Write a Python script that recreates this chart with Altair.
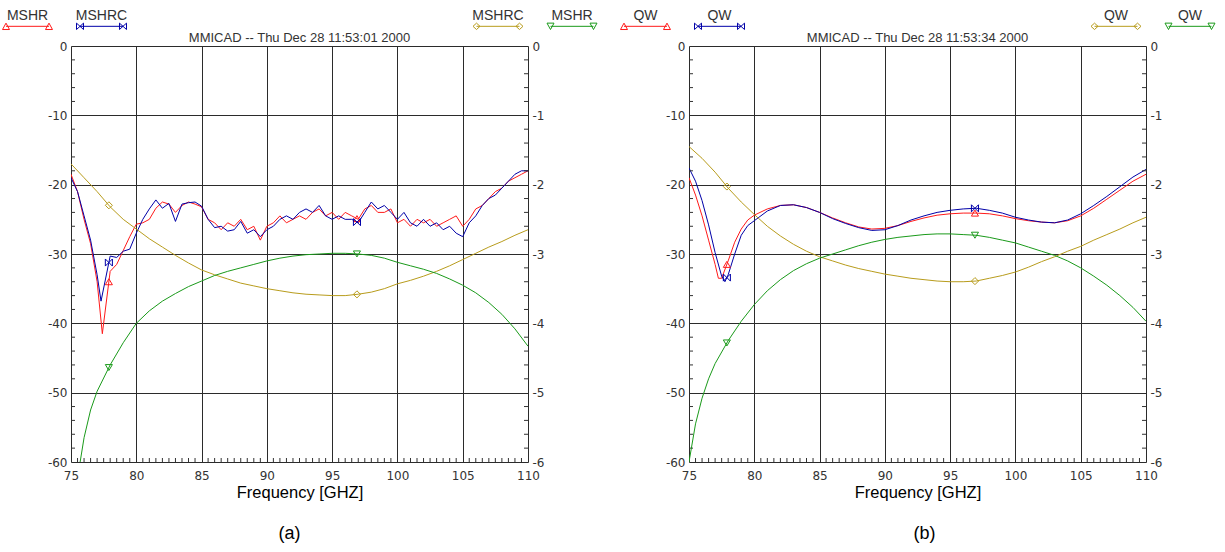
import altair as alt
import numpy as np
import pandas as pd

# ------------------------------------------------------------------ data
FREQ_GRID_A = [round(75.0 + 0.5 * i, 1) for i in range(71)]
FREQ_A_RED = [77.4 if f == 77.5 else f for f in FREQ_GRID_A]
FREQ_A_BLUE = [77.3 if f == 77.5 else f for f in FREQ_GRID_A]

MSHR_A = [
    -18.5, -21.0, -25.0, -28.5, -34.0, -41.5, -32.5, -31.5, -29.5, -27.5,
    -25.7, -25.5, -25.0, -23.4, -22.5, -22.8, -24.0, -23.0, -22.5, -22.8,
    -23.2, -25.0, -25.5, -26.5, -25.5, -26.0, -25.0, -26.5, -26.0, -28.0,
    -26.0, -25.5, -24.5, -25.5, -25.0, -24.5, -25.0, -24.0, -23.5, -24.5,
    -24.0, -25.0, -24.0, -24.5, -25.0, -23.5, -23.0, -24.0, -24.0, -23.5,
    -25.5, -25.0, -26.0, -25.0, -25.5, -25.0, -26.0, -25.5, -25.0, -24.5,
    -26.0, -25.0, -23.5, -23.0, -22.0, -21.0, -20.5, -19.5, -19.0, -18.5,
    -18.0,
]
MSHRC_A = [
    -19.0, -21.0, -24.5, -28.0, -33.0, -36.8, -30.3, -30.5, -29.6, -29.3,
    -27.0, -25.0, -23.5, -22.2, -23.4, -22.7, -25.3, -22.8, -22.6, -22.5,
    -23.1, -25.0, -26.2, -26.0, -26.7, -26.5, -25.3, -27.0, -26.5, -27.5,
    -26.5, -26.0, -25.0, -24.5, -25.0, -24.0, -23.5, -24.0, -23.0, -24.5,
    -25.0, -24.5, -25.0, -25.0, -25.5, -24.0, -22.5, -23.5, -23.0, -24.0,
    -25.0, -24.0, -25.5, -26.0, -25.0, -26.0, -25.5, -26.5, -26.0, -27.0,
    -27.5, -25.5, -24.5, -23.0, -22.0, -21.5, -20.5, -19.5, -18.5, -18.0,
    -18.0,
]

FREQ_1GHZ = list(range(75, 111))
MSHRC_A_RIGHT = [
    -1.70, -1.90, -2.10, -2.32, -2.50, -2.64, -2.78, -2.90, -3.02, -3.13,
    -3.23, -3.30, -3.36, -3.42, -3.46, -3.50, -3.53, -3.56, -3.58, -3.59,
    -3.60, -3.60, -3.58, -3.55, -3.50, -3.43, -3.38, -3.32, -3.25, -3.17,
    -3.08, -2.99, -2.90, -2.82, -2.73, -2.65,
]
FREQ_A_GREEN = [75.7, 76, 76.5, 77] + list(range(78, 111))
MSHR_A_RIGHT = [
    -6.00, -5.65, -5.25, -4.98, -4.60, -4.28, -4.00, -3.82, -3.68, -3.57,
    -3.47, -3.39, -3.31, -3.25, -3.20, -3.15, -3.10, -3.06, -3.03, -3.01,
    -3.00, -2.99, -2.99, -3.00, -3.02, -3.06, -3.12, -3.17, -3.22, -3.28,
    -3.36, -3.45, -3.56, -3.70, -3.87, -4.08, -4.33,
]

FREQ_B_RED = [75, 75.5, 76, 76.5, 77, 77.25, 77.5, 78, 78.5, 79, 79.5] + list(range(80, 111))
QW_B_RED = [
    -19.0, -21.5, -24.5, -28.0, -31.5, -33.5, -33.5, -31.0, -28.3, -26.4, -25.1,
    -24.4, -23.5, -23.0, -22.9, -23.3, -24.0, -24.8, -25.5, -26.1, -26.4,
    -26.3, -25.9, -25.3, -24.8, -24.4, -24.2, -24.1, -24.1, -24.2, -24.5,
    -24.9, -25.2, -25.4, -25.5, -25.2, -24.5, -23.4, -22.1, -20.8, -19.5,
    -18.5,
]
FREQ_B_BLUE = [75, 75.5, 76, 76.5, 77, 77.5, 77.75, 78, 78.5, 79, 79.5] + list(range(80, 111))
QW_B_BLUE = [
    -17.6, -19.5, -22.3, -25.8, -29.8, -33.2, -34.0, -33.0, -30.0, -27.3, -25.9,
    -25.2, -23.8, -23.0, -22.9, -23.3, -24.0, -24.9, -25.6, -26.2, -26.6,
    -26.5, -25.9, -25.1, -24.5, -24.0, -23.7, -23.5, -23.4, -23.7, -24.1,
    -24.7, -25.1, -25.4, -25.5, -25.1, -24.2, -23.0, -21.7, -20.3, -18.9,
    -17.8,
]
QW_B_GOLD = [
    -1.45, -1.62, -1.82, -2.05, -2.25, -2.43, -2.60, -2.74, -2.86, -2.96,
    -3.04, -3.10, -3.16, -3.21, -3.25, -3.29, -3.32, -3.35, -3.37, -3.39,
    -3.40, -3.40, -3.39, -3.35, -3.31, -3.26, -3.19, -3.11, -3.04, -2.96,
    -2.89, -2.80, -2.72, -2.64, -2.55, -2.47,
]
FREQ_B_GREEN = [75, 75.5, 76, 76.5, 77] + list(range(78, 111))
QW_B_GREEN = [
    -6.00, -5.45, -5.08, -4.80, -4.58, -4.25, -3.97, -3.73, -3.53, -3.37,
    -3.24, -3.14, -3.06, -3.00, -2.94, -2.88, -2.83, -2.79, -2.76, -2.74,
    -2.72, -2.71, -2.71, -2.72, -2.73, -2.76, -2.80, -2.84, -2.90, -2.96,
    -3.02, -3.10, -3.20, -3.32, -3.45, -3.60, -3.77, -3.97,
]

MARKER_FREQS = [77.9, 96.9]
X_TICKS = list(range(75, 111, 5))
LEFT_TICKS = list(range(-60, 1, 10))
RIGHT_TICKS = list(range(-6, 1))

TITLE_A = "MMICAD -- Thu Dec 28 11:53:01 2000"
TITLE_B = "MMICAD -- Thu Dec 28 11:53:34 2000"

# ------------------------------------------------------------------ style
W, H = 457, 416
FONT_NUM = "DejaVu Sans"
FONT_TXT = "Liberation Sans"
GRID_COLOR = "#2b2b2b"
TICK_COLOR = "#333333"
RED, BLUE, GOLD, GREEN = "#ff1a1a", "#0000a8", "#b89c1c", "#1a9a1a"

# legend glyph geometry (unit = 7 px, symbol size 196)
SYM_SIZE = 196
UNIT = 7.0
HALF_LEN = 21.5 / UNIT
LINE_DY = 10.75 / UNIT
HX, HY = 3.5 / UNIT, 3.2 / UNIT


def end_marker(kind, cx):
    y0, y1, ym = LINE_DY - HY, LINE_DY + HY, LINE_DY
    if kind == "up":
        return f"M{cx:.3f},{y0:.3f}L{cx + HX:.3f},{y1:.3f}L{cx - HX:.3f},{y1:.3f}Z"
    if kind == "down":
        return f"M{cx - HX:.3f},{y0:.3f}L{cx + HX:.3f},{y0:.3f}L{cx:.3f},{y1:.3f}Z"
    if kind == "diamond":
        return (f"M{cx:.3f},{y0:.3f}L{cx + HX:.3f},{ym:.3f}L{cx:.3f},{y1:.3f}"
                f"L{cx - HX:.3f},{ym:.3f}Z")
    return (f"M{cx - HX:.3f},{y0:.3f}L{cx - HX:.3f},{y1:.3f}L{cx + HX:.3f},{y0:.3f}"
            f"L{cx + HX:.3f},{y1:.3f}Z")


def legend_path(kind):
    return (f"M{-HALF_LEN:.3f},{LINE_DY:.3f}L{HALF_LEN:.3f},{LINE_DY:.3f}"
            + end_marker(kind, -HALF_LEN) + end_marker(kind, HALF_LEN))


POINT_PATH = {
    "up": "M0,-0.85L1,0.85L-1,0.85Z",
    "down": "M-1,-0.85L1,-0.85L0,0.85Z",
    "diamond": "M0,-1L1,0L0,1L-1,0Z",
    "bowtie": "M-1,-1L-1,1L1,-1L1,1Z",
}


def frame(series):
    rows = []
    for name, _c, _k, freqs, vals in series:
        for f, v in zip(freqs, vals):
            rows.append({"f": float(f), "v": float(v), "s": name})
    return pd.DataFrame(rows)


def make_legend(x):
    return alt.Legend(
        orient="none", legendX=x, legendY=-38.2, direction="horizontal", title=None,
        labelExpr="split(datum.label, '|')[0]", labelAlign="center",
        labelOffset={"expr": "-7.5"},
        labelBaseline="middle", labelFont=FONT_TXT, labelFontSize=14, labelColor="#333333",
        symbolSize=SYM_SIZE, symbolStrokeWidth=1, symbolFillColor="transparent",
        columnPadding=19, padding=0,
    )


def group(series, y_enc, x_enc, legend_x, tick_df, tick_x):
    names = [s[0] for s in series]
    colors = [s[1] for s in series]
    paths = [legend_path(s[2]) for s in series]
    df = frame(series)
    leg = make_legend(legend_x)
    stroke_scale = alt.Scale(domain=names, range=colors)
    lines = alt.Chart(df).mark_line(strokeWidth=1, clip=True).encode(
        x=x_enc, y=y_enc, stroke=alt.Stroke("s:N", scale=stroke_scale, legend=leg)
    )
    legend_layer = alt.Chart(df).transform_filter("false").mark_point(
        size=SYM_SIZE, filled=False, strokeWidth=1, opacity=1
    ).encode(
        x=x_enc, y=y_enc,
        stroke=alt.Stroke("s:N", scale=stroke_scale, legend=leg),
        shape=alt.Shape("s:N", scale=alt.Scale(domain=names, range=paths), legend=leg),
    )
    layers = [lines]
    for name, color, kind, freqs, vals in series:
        mdf = pd.DataFrame({"f": MARKER_FREQS, "v": np.interp(MARKER_FREQS, freqs, vals)})
        layers.append(
            alt.Chart(mdf).mark_point(
                shape=POINT_PATH[kind], size=50, filled=False, strokeWidth=1,
                color=color, opacity=1,
            ).encode(x=x_enc, y=y_enc)
        )
    layers.append(legend_layer)
    layers.append(
        alt.Chart(tick_df).mark_rule(color=TICK_COLOR, strokeWidth=1).encode(
            y=y_enc, x=alt.value(tick_x[0]), x2=alt.value(tick_x[1])
        )
    )
    return layers


def panel(left_series, right_series, title, caption, caption_x):
    x_enc = alt.X(
        "f:Q",
        scale=alt.Scale(domain=[75, 110], nice=False, zero=False),
        axis=alt.Axis(
            values=X_TICKS, grid=True, gridColor=GRID_COLOR, gridWidth=1, ticks=False,
            domain=False, labelFlush=False, labelFont=FONT_NUM, labelFontSize=12,
            labelColor="#333333", labelPadding=8, title="Frequency [GHZ]",
            titleFont=FONT_TXT, titleFontSize=16.5, titleFontWeight="normal",
            titleColor="black", titlePadding=3,
        ),
    )
    y_left = alt.Y(
        "v:Q",
        scale=alt.Scale(domain=[-60, 0], nice=False, zero=False),
        axis=alt.Axis(
            orient="left", values=LEFT_TICKS, grid=True, gridColor=GRID_COLOR, gridWidth=1,
            ticks=False, domain=False, labelFont=FONT_NUM, labelFontSize=12,
            labelColor="#333333", labelPadding=4, title=None,
            labelExpr="'' + datum.value",
        ),
    )
    y_right = alt.Y(
        "v:Q",
        scale=alt.Scale(domain=[-6, 0], nice=False, zero=False),
        axis=alt.Axis(
            orient="right", values=RIGHT_TICKS, grid=False, ticks=False, domain=False,
            labelFont=FONT_NUM, labelFontSize=12, labelColor="#333333", labelPadding=4,
            title=None, labelExpr="'' + datum.value",
        ),
    )
    left_minor = pd.DataFrame({"v": [v for v in range(-58, 0, 2) if v % 10 != 0]})
    right_minor = pd.DataFrame({"v": [round(-6 + 0.2 * i, 1) for i in range(1, 30) if i % 5 != 0]})
    x_minor = pd.DataFrame({"f": [75 + 0.5 * i for i in range(1, 70) if i % 10 != 0]})

    left_layers = group(left_series, y_left, x_enc, -51, left_minor, (0, 4))
    left_layers.append(
        alt.Chart(x_minor).mark_rule(color=TICK_COLOR, strokeWidth=1).encode(
            x=x_enc, y=alt.value(H), y2=alt.value(H - 4)
        )
    )
    left_layers.append(
        alt.Chart(pd.DataFrame({"t": [title]})).mark_text(
            font=FONT_TXT, fontSize=13, color="#333333", align="center", baseline="middle"
        ).encode(text="t:N", x=alt.value(W / 2), y=alt.value(-8))
    )
    left_layers.append(
        alt.Chart(pd.DataFrame({"t": [caption]})).mark_text(
            font=FONT_TXT, fontSize=18, color="black", align="center", baseline="middle"
        ).encode(text="t:N", x=alt.value(caption_x), y=alt.value(H + 72))
    )
    right_layers = group(right_series, y_right, x_enc, 419.5, right_minor, (W, W - 4))

    return (
        alt.layer(alt.layer(*left_layers), alt.layer(*right_layers))
        .resolve_scale(y="independent", stroke="independent", shape="independent")
        .properties(width=W, height=H)
    )


series_a_left = [
    ("MSHR|a1", RED, "up", FREQ_A_RED, MSHR_A),
    ("MSHRC|a2", BLUE, "bowtie", FREQ_A_BLUE, MSHRC_A),
]
series_a_right = [
    ("MSHRC|a3", GOLD, "diamond", FREQ_1GHZ, MSHRC_A_RIGHT),
    ("MSHR|a4", GREEN, "down", FREQ_A_GREEN, MSHR_A_RIGHT),
]
series_b_left = [
    ("QW|b1", RED, "up", FREQ_B_RED, QW_B_RED),
    ("QW|b2", BLUE, "bowtie", FREQ_B_BLUE, QW_B_BLUE),
]
series_b_right = [
    ("QW|b3", GOLD, "diamond", FREQ_1GHZ, QW_B_GOLD),
    ("QW|b4", GREEN, "down", FREQ_B_GREEN, QW_B_GREEN),
]

pa = panel(series_a_left, series_a_right, TITLE_A, "(a)", W / 2 - 10)
pb = panel(series_b_left, series_b_right, TITLE_B, "(b)", W / 2 + 7)

chart = (
    alt.hconcat(pa, pb, spacing=161, bounds="flush")
    .resolve_scale(x="independent", y="independent", stroke="independent", shape="independent")
    .properties(padding={"left": 19, "top": 7, "right": 1, "bottom": 5})
    .configure_view(stroke="black", strokeWidth=1)
    .configure(background="white")
)

chart.save("out.html", embed_options={"renderer": "svg", "actions": False})
